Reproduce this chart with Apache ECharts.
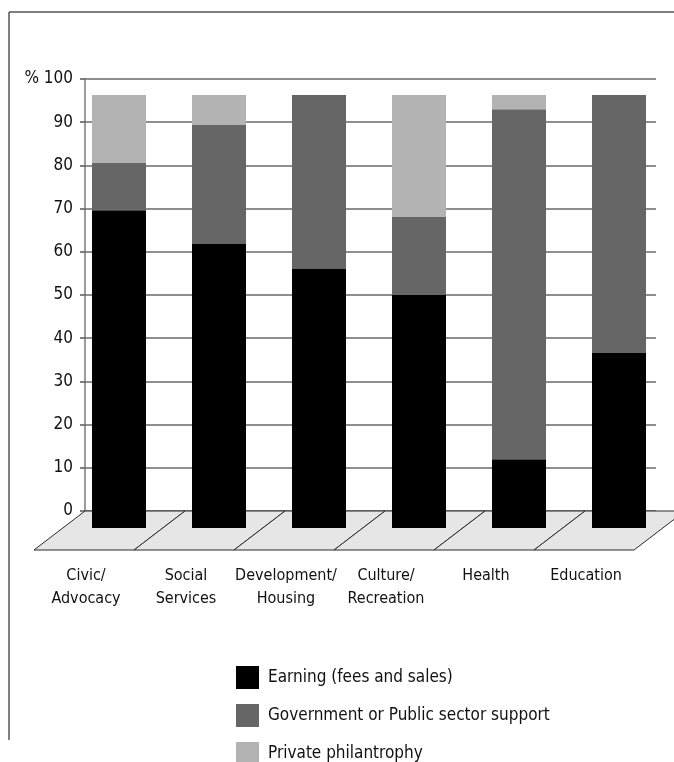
<!DOCTYPE html>
<html>
<head>
<meta charset="utf-8">
<script src="https://cdn.jsdelivr.net/npm/echarts@6/dist/echarts.min.js"></script>
<style>
  html, body { margin: 0; padding: 0; background: #fff; }
  #chart { width: 674px; height: 762px; }
</style>
</head>
<body>
<div id="chart"></div>
<script>
// Revenue mix by field, percent of total
const categories = ['Civic/\nAdvocacy', 'Social\nServices', 'Development/\nHousing', 'Culture/\nRecreation', 'Health', 'Education'];
const earning = [73.4, 65.6, 59.8, 53.8, 15.9, 40.4];
const government = [10.9, 27.5, 40.2, 18.0, 80.8, 59.6];
const philanthropy = [15.7, 6.9, 0, 28.2, 3.3, 0];
const yTicks = [0, 10, 20, 30, 40, 50, 60, 70, 80, 90, 100];

const FONT = '"Liberation Sans Narrow", "DejaVu Sans Condensed", sans-serif';

const chart = echarts.init(document.getElementById('chart'), null, { renderer: 'canvas' });

// Floor slab under the bars, one slot per category
function renderFloor(params, api) {
  const idx = api.value(0);
  const c = api.coord([idx, 0]);
  const w = api.size([1, 0])[0];
  const xl = c[0] - w / 2, xr = c[0] + w / 2;
  const yf = c[1] + 22, yb = c[1] - 17;
  return {
    type: 'polygon',
    shape: { points: [[xl - 35, yf], [xr - 35, yf], [xr + 16, yb], [xl + 16, yb]] },
    style: { fill: '#e6e6e6', stroke: '#2a2a2a', lineWidth: 1 }
  };
}

chart.setOption({
  animation: false,
  backgroundColor: '#fff',
  textStyle: { fontFamily: FONT },
  grid: [
    { left: 69, top: 95, width: 600, height: 433, outerBoundsMode: 'none', containLabel: false },
    { left: 85, top: 79, width: 571, height: 432, outerBoundsMode: 'none', containLabel: false }
  ],
  xAxis: [
    {
      gridIndex: 0, type: 'category', data: categories,
      axisLine: { show: false }, axisTick: { show: false },
      axisLabel: {
        margin: 36, fontSize: 16, lineHeight: 23, color: '#111', fontFamily: FONT,
        padding: [0, 66, 0, 0], interval: 0
      }
    },
    { gridIndex: 1, type: 'value', min: 0, max: 1, show: false }
  ],
  yAxis: [
    { gridIndex: 0, type: 'value', min: 0, max: 100, show: false },
    {
      gridIndex: 1, type: 'value', min: 0, max: 100, interval: 10,
      axisLine: { show: true, lineStyle: { color: '#7a7a7a', width: 1.5 } },
      axisTick: { show: true, length: 5, lineStyle: { color: '#555', width: 1.5 } },
      axisLabel: {
        margin: 12, fontSize: 17, color: '#111', fontFamily: FONT,
        formatter: v => (v === 100 ? '% ' + v : String(v))
      },
      splitLine: { show: true, lineStyle: { color: '#6a6a6a', width: 1.5 } }
    }
  ],
  legend: {
    orient: 'vertical', left: 236, top: 666, height: 120, padding: 0,
    itemWidth: 23, itemHeight: 23, itemGap: 15, icon: 'rect',
    textStyle: { fontSize: 17, color: '#111', fontFamily: FONT, padding: [0, 0, 0, 4] },
    data: ['Earning (fees and sales)', 'Government or Public sector support', 'Private philantrophy']
  },
  graphic: [
    { type: 'line', shape: { x1: 9, y1: 12, x2: 674, y2: 12 }, style: { stroke: '#555', lineWidth: 1.5 } },
    { type: 'line', shape: { x1: 9, y1: 12, x2: 9, y2: 740 }, style: { stroke: '#555', lineWidth: 1.5 } }
  ],
  series: [
    {
      type: 'custom', xAxisIndex: 0, yAxisIndex: 0, z: 1, clip: false, silent: true,
      renderItem: renderFloor, data: categories.map((_, i) => [i])
    },
    {
      name: 'Earning (fees and sales)', type: 'bar', stack: 'mix', xAxisIndex: 0, yAxisIndex: 0,
      barWidth: 54, data: earning, itemStyle: { color: '#000000' }, z: 3
    },
    {
      name: 'Government or Public sector support', type: 'bar', stack: 'mix', xAxisIndex: 0, yAxisIndex: 0,
      barWidth: 54, data: government, itemStyle: { color: '#666666' }, z: 3
    },
    {
      name: 'Private philantrophy', type: 'bar', stack: 'mix', xAxisIndex: 0, yAxisIndex: 0,
      barWidth: 54, data: philanthropy, itemStyle: { color: '#b3b3b3' }, z: 3
    }
  ]
});
</script>
</body>
</html>
